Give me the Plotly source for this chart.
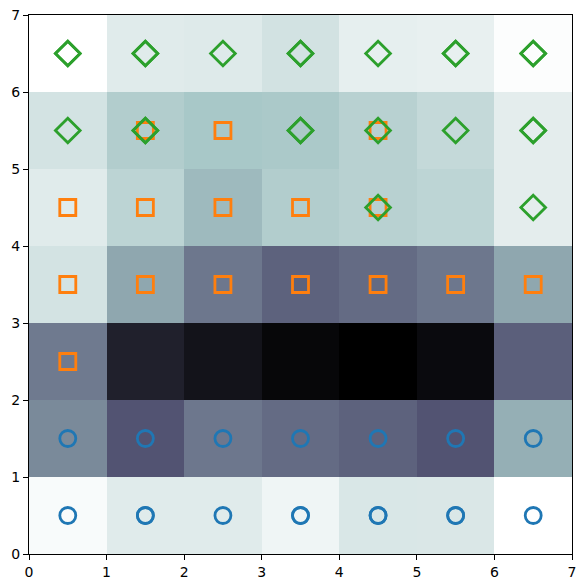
import plotly.graph_objects as go

# distance map values (rows from bottom y=0 to top y=6), normalised 0..1
row0 = [0.02, 0.089, 0.089, 0.046, 0.109, 0.106, 0.0]
row1 = [0.45, 0.63, 0.51, 0.55, 0.58, 0.63, 0.33]
row2 = [0.50, 0.857, 0.915, 0.97, 1.0, 0.955, 0.59]
row3 = [0.126, 0.355, 0.51, 0.58, 0.55, 0.51, 0.355]
row4 = [0.089, 0.192, 0.292, 0.221, 0.204, 0.187, 0.078]
row5 = [0.126, 0.221, 0.247, 0.241, 0.204, 0.169, 0.078]
row6 = [0.0, 0.089, 0.094, 0.129, 0.072, 0.066, 0.009]
z = [row0, row1, row2, row3, row4, row5, row6]
centers = [0.5, 1.5, 2.5, 3.5, 4.5, 5.5, 6.5]

# winner positions per class (duplicates = several samples on one node)
circ_x = [0.5, 1.5, 1.5, 2.5, 3.5, 3.5, 4.5, 4.5, 5.5, 5.5, 6.5,
          0.5, 1.5, 2.5, 3.5, 4.5, 5.5, 6.5]
circ_y = [0.5, 0.5, 0.5, 0.5, 0.5, 0.5, 0.5, 0.5, 0.5, 0.5, 0.5,
          1.5, 1.5, 1.5, 1.5, 1.5, 1.5, 1.5]
sq_x = [0.5, 0.5, 1.5, 2.5, 3.5, 4.5, 5.5, 6.5,
        0.5, 1.5, 2.5, 3.5, 4.5, 1.5, 2.5, 4.5]
sq_y = [2.5, 3.5, 3.5, 3.5, 3.5, 3.5, 3.5, 3.5,
        4.5, 4.5, 4.5, 4.5, 4.5, 5.5, 5.5, 5.5]
dia_x = [4.5, 6.5, 0.5, 1.5, 1.5, 3.5, 3.5, 4.5, 5.5, 6.5, 6.5,
         0.5, 0.5, 1.5, 1.5, 2.5, 3.5, 3.5, 4.5, 5.5, 5.5, 6.5, 6.5]
dia_y = [4.5, 4.5, 5.5, 5.5, 5.5, 5.5, 5.5, 5.5, 5.5, 5.5, 5.5,
         6.5, 6.5, 6.5, 6.5, 6.5, 6.5, 6.5, 6.5, 6.5, 6.5, 6.5, 6.5]

ticks = [0, 1, 2, 3, 4, 5, 6, 7]

# bone_r colormap (exact piecewise-linear nodes)
bone_r = [
    [0.0, "rgb(255,255,255)"],
    [0.253968, "rgb(166,198,198)"],
    [0.634921, "rgb(81,81,113)"],
    [1.0, "rgb(0,0,0)"],
]

fig = go.Figure()
fig.add_trace(go.Heatmap(x=centers, y=centers, z=z, colorscale=bone_r,
                         zmin=0, zmax=1, showscale=False, hoverinfo="skip"))
fig.add_trace(go.Scatter(x=circ_x, y=circ_y, mode="markers",
                         marker=dict(symbol="circle-open", size=16, color="#1f77b4",
                                     line=dict(width=2.8, color="#1f77b4"))))
fig.add_trace(go.Scatter(x=sq_x, y=sq_y, mode="markers",
                         marker=dict(symbol="square-open", size=16, color="#ff7f0e",
                                     line=dict(width=2.8, color="#ff7f0e"))))
fig.add_trace(go.Scatter(x=dia_x, y=dia_y, mode="markers",
                         marker=dict(symbol="diamond-open", size=19, color="#2ca02c",
                                     line=dict(width=2.8, color="#2ca02c"))))

axis = dict(range=[0, 7], tickvals=ticks, ticktext=[str(t) for t in ticks],
            showgrid=False, zeroline=False, showline=True, linecolor="black",
            linewidth=1, mirror=True, ticks="outside", ticklen=5, tickwidth=1,
            tickcolor="black", tickfont=dict(family="DejaVu Sans", size=14, color="black"))

fig.update_layout(width=585, height=588, showlegend=False,
                  margin=dict(l=29, r=13, t=15, b=34, autoexpand=False),
                  plot_bgcolor="white", paper_bgcolor="white",
                  xaxis=axis, yaxis=axis)
fig.write_html("out.html", config={"displayModeBar": False},
               post_script="document.body.style.margin='0';document.body.style.overflow='hidden';")
